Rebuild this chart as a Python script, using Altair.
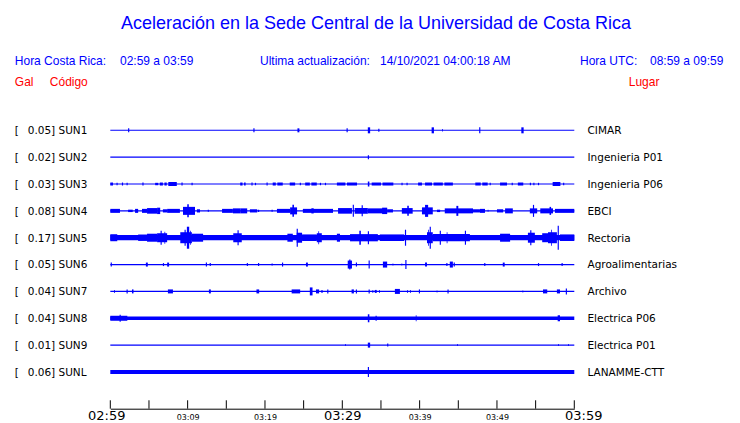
import altair as alt
import pandas as pd

# ---------------- data ----------------
codes = ["SUN1", "SUN2", "SUN3", "SUN4", "SUN5", "SUN6", "SUN7", "SUN8", "SUN9", "SUNL"]
places = ["CIMAR", "Ingenieria P01", "Ingenieria P06", "EBCI", "Rectoria",
          "Agroalimentarias", "Archivo", "Electrica P06", "Electrica P01", "LANAMME-CTT"]
peak_gal = [0.05, 0.02, 0.03, 0.08, 0.17, 0.05, 0.04, 0.04, 0.01, 0.06]
# background trace half-amplitude (arbitrary amplitude units, 26.85 units = one row)
base_amp = [0.55, 0.55, 0.6, 0.6, 2.6, 0.6, 0.6, 1.8, 0.6, 2.0]

tick_minutes = [0, 5, 10, 15, 20, 25, 30, 35, 40, 45, 50, 55, 60]
label_minutes = [0, 10, 20, 30, 40, 50, 60]
time_labels = ["02:59", "03:09", "03:19", "03:29", "03:39", "03:49", "03:59"]

# events: (start minute, end minute, half-amplitude)
sun1 = [(2.3, 2.45, 2), (18.5, 18.65, 2), (24.2, 24.45, 2), (30.55, 30.7, 2), (33.3, 33.6, 3),
        (34.65, 34.8, 1.5), (41.55, 41.85, 3), (42.9, 43.0, 1.2), (47.7, 47.85, 3), (53.15, 53.45, 3)]
sun2 = [(33.3, 33.45, 2)]
sun3 = [(0, 0.35, 1.5), (0.8, 0.95, 1.2), (1.5, 1.65, 1.5), (2.1, 2.25, 1.2), (4.15, 4.3, 1.5),
        (5.8, 6.2, 1.2), (6.4, 6.8, 1.5), (7.0, 7.3, 1.5), (7.5, 8.6, 2), (9.2, 9.35, 1.5),
        (10.5, 10.65, 1.2), (16.8, 17.1, 1.5), (17.3, 17.5, 1.5), (18.25, 18.4, 1.5), (18.7, 18.85, 1.2),
        (20.2, 20.35, 1.5), (21.0, 21.4, 1.5), (21.6, 22.3, 1.5), (23.2, 23.9, 1.5), (24.5, 24.65, 1.2),
        (25.2, 25.8, 1.5), (26.0, 26.7, 1.5), (27.1, 27.25, 1.2), (27.75, 27.9, 1.2), (29.3, 30.4, 1.5),
        (30.6, 31.9, 1.5), (33.3, 33.5, 2.5), (33.8, 35.0, 1.5), (35.2, 36.6, 1.5), (37.65, 37.8, 1.2),
        (38.3, 38.45, 1.2), (39.8, 40.3, 1.5), (40.7, 41.6, 1.5), (41.8, 43.0, 1.5), (43.2, 44.3, 1.5),
        (47.2, 47.9, 1.5), (48.1, 48.8, 1.5), (49.05, 49.2, 1.2), (50.4, 51.3, 1.5), (51.9, 52.05, 1.2),
        (52.7, 53.4, 1.5), (54.25, 54.4, 1.2), (54.7, 54.85, 1.2), (55.3, 55.45, 1.2),
        (57.2, 58.2, 2), (58.55, 58.7, 1.2)]
sun4 = [(0, 1.25, 2), (2.3, 2.9, 1.2), (3.2, 3.6, 2), (4.1, 4.75, 2), (4.75, 6.05, 2.8),
        (6.05, 6.45, 3.2), (6.8, 7.35, 1.6), (7.35, 9.0, 2), (9.4, 10.95, 4), (9.95, 10.15, 6.5),
        (11.2, 11.6, 1.6), (12.6, 12.75, 1), (14.45, 15.85, 2), (15.85, 16.8, 2.5), (16.8, 17.7, 2.5),
        (18.05, 19.0, 1.6), (19.1, 19.25, 1.2), (20.85, 21.0, 1), (21.55, 23.25, 2),
        (23.25, 24.15, 3.5), (23.55, 23.75, 6), (24.9, 28.8, 2), (26.0, 26.3, 2.6),
        (29.45, 31.25, 2.8), (31.35, 31.5, 6), (31.6, 33.3, 2.8), (32.5, 32.65, 5.5),
        (33.3, 35.8, 2.5), (35.15, 35.8, 3.2), (35.8, 36.55, 1.6), (37.7, 39.1, 2.8), (38.4, 38.6, 5),
        (40.3, 41.7, 3.5), (40.7, 41.1, 6), (42.25, 42.65, 1.2), (43.25, 46.9, 2.5), (44.75, 45.0, 5),
        (46.9, 47.8, 1.6), (47.8, 48.45, 2), (48.8, 48.9, 1), (50.0, 50.8, 1.6), (51.05, 52.05, 2.5),
        (54.25, 55.2, 2.5), (54.65, 54.8, 6), (55.6, 57.25, 2.5), (56.8, 57.0, 4), (57.5, 60, 2)]
sun5 = [(0, 0.9, 3.5), (3.6, 4.75, 3.2), (4.75, 6.05, 4), (6.05, 7.35, 4.5), (6.5, 6.65, 7),
        (7.0, 7.1, 6), (9.05, 10.55, 5.5), (9.6, 9.75, 8), (9.9, 10.2, 11), (10.3, 10.4, 7),
        (10.55, 12.0, 4), (15.9, 17.0, 4.5), (16.45, 16.6, 7.5), (22.9, 23.6, 4), (24.1, 24.8, 5),
        (24.1, 24.25, 9), (24.8, 26.7, 3.3), (26.7, 27.35, 4.5), (26.9, 27.0, 6.5), (29.3, 29.7, 4),
        (31.0, 34.6, 3.6), (32.2, 32.4, 7), (33.3, 33.45, 6.5), (34.85, 38.0, 3.3), (38.1, 38.25, 8),
        (40.95, 41.7, 5.5), (41.1, 41.2, 8), (41.3, 41.45, 11), (41.7, 46.5, 3.6), (42.6, 42.75, 7),
        (43.5, 43.6, 5.5), (45.85, 46.0, 7), (50.4, 51.7, 4), (54.0, 54.9, 5), (54.3, 54.45, 7.5),
        (55.85, 56.6, 4.5), (56.6, 57.75, 5.5), (57.0, 57.1, 8), (57.85, 58.0, 12), (58.15, 60, 3.3)]
sun6 = [(0.05, 0.2, 2), (4.6, 4.85, 2), (6.8, 6.95, 1.5), (7.35, 7.6, 2), (12.35, 12.5, 2),
        (12.85, 13.0, 1.5), (17.65, 17.8, 1.5), (19.1, 19.25, 1.5), (20.85, 21.0, 1), (22.2, 22.35, 2),
        (25.3, 25.55, 2), (30.7, 31.25, 4), (30.9, 31.05, 5), (31.75, 31.9, 2), (33.4, 33.55, 4),
        (35.25, 35.8, 3), (36.5, 36.6, 1), (37.65, 37.75, 1), (38.15, 38.3, 4.5), (40.7, 40.95, 2),
        (43.45, 43.6, 1.5), (43.9, 44.3, 3), (44.4, 44.55, 2), (48.35, 48.5, 1.5), (50.75, 51.0, 2),
        (55.3, 55.45, 1.5), (58.35, 58.5, 1.5)]
sun7 = [(0.5, 0.6, 1.5), (2.1, 2.25, 2), (2.8, 3.0, 2), (7.45, 8.1, 2), (12.75, 13.0, 2),
        (18.9, 19.25, 2), (23.45, 24.55, 2), (25.8, 26.15, 4), (26.6, 27.0, 2), (27.3, 27.45, 1.5),
        (28.05, 28.2, 2), (31.2, 31.5, 2), (31.75, 31.9, 2), (33.4, 33.55, 2), (33.9, 34.0, 1.5),
        (34.2, 34.45, 1.5), (34.75, 34.85, 1.5), (36.8, 37.45, 2.5), (38.4, 38.5, 1.5),
        (38.75, 38.85, 1.5), (39.9, 40.05, 2), (42.2, 42.3, 1), (43.6, 43.75, 2), (53.3, 53.4, 1),
        (55.95, 56.5, 2), (57.75, 58.15, 2), (58.9, 59.05, 3)]
sun8 = [(0, 2.2, 2.5), (1.2, 1.35, 3.5), (33.3, 33.5, 4), (34.3, 34.45, 2.5), (39.5, 39.6, 3),
        (57.85, 58.15, 3)]
sun9 = [(30.35, 30.45, 1), (33.3, 33.6, 2.5), (35.8, 35.95, 1.5), (44.85, 44.95, 1),
        (57.9, 58.0, 1), (59.2, 59.3, 1)]
sunl = [(33.3, 33.45, 5)]

events = [sun1, sun2, sun3, sun4, sun5, sun6, sun7, sun8, sun9, sunl]

ROW_UNITS = 26.85  # amplitude units per station row

rows = []
for i, ev in enumerate(events):
    rows.append({"station": codes[i], "t0": 0, "t1": 60,
                 "lo": i - base_amp[i] / ROW_UNITS, "hi": i + base_amp[i] / ROW_UNITS})
    for a, b, amp in ev:
        rows.append({"station": codes[i], "t0": a, "t1": b,
                     "lo": i - amp / ROW_UNITS, "hi": i + amp / ROW_UNITS})
trace_df = pd.DataFrame(rows)

station_df = pd.DataFrame({
    "idx": list(range(len(codes))),
    "left": [f"{v:.2f}] {c}" for v, c in zip(peak_gal, codes)],
    "place": places,
    "br": ["["] * len(codes),
})
tick_df = pd.DataFrame({"m": tick_minutes})

# ---------------- chart ----------------
BLUE = "#0000ff"
RED = "#ff0000"

xscale = alt.Scale(domain=[0, 60], nice=False, zero=False)
yscale = alt.Scale(domain=[-0.5, 9.5], reverse=True, nice=False, zero=False)
label_list = ",".join(f"'{t}'" for t in time_labels)
xaxis = alt.Axis(
    values=label_minutes,
    labelExpr=f"[{label_list}][round(datum.value/10)]",
    title=None, grid=False, ticks=False,
    domain=True, domainColor="black", domainWidth=1,
    offset=23.3, labelFlush=False, labelOverlap=False,
    labelFont="DejaVu Sans", labelColor="black",
    labelFontSize={"condition": {"test": "datum.value % 30 === 0", "value": 13}, "value": 8},
    labelOffset={"condition": [{"test": "datum.value === 0", "value": -4},
                               {"test": "datum.value === 60", "value": 9}], "value": 0},
    labelBaseline="alphabetic", labelPadding=10.5,
)

traces = alt.Chart(trace_df).mark_rect(color=BLUE).encode(
    x=alt.X("t0:Q", scale=xscale, axis=xaxis),
    x2="t1:Q",
    y=alt.Y("lo:Q", scale=yscale, axis=None),
    y2="hi:Q",
)

ticks = alt.Chart(tick_df).mark_rule(color="black", strokeWidth=1).encode(
    x=alt.X("m:Q", scale=xscale, axis=xaxis),
    y=alt.value(283.4),
    y2=alt.value(291.8),
)

st_font = dict(font="DejaVu Sans", fontSize=10.5, color="black", baseline="alphabetic", dy=3.9)
bracket = alt.Chart(station_df).mark_text(align="left", **st_font).encode(
    x=alt.value(-95.6), y=alt.Y("idx:Q", scale=yscale, axis=None), text="br:N")
left_lab = alt.Chart(station_df).mark_text(align="left", **st_font).encode(
    x=alt.value(-82.6), y=alt.Y("idx:Q", scale=yscale, axis=None), text="left:N")
right_lab = alt.Chart(station_df).mark_text(align="left", **st_font).encode(
    x=alt.value(477.2), y=alt.Y("idx:Q", scale=yscale, axis=None), text="place:N")


def header(text, x, y, color=BLUE, size=12, align="left"):
    return alt.Chart(pd.DataFrame({"t": [text]})).mark_text(
        align=align, baseline="alphabetic", font="Liberation Sans",
        fontSize=size, color=color,
    ).encode(x=alt.value(x), y=alt.value(y), text="t:N")


headers = [
    header("Aceleración en la Sede Central de la Universidad de Costa Rica", 265.7, -87.4,
           size=18, align="center"),
    header("Hora Costa Rica:", -95.5, -51.9),
    header("02:59 a 03:59", 9.7, -51.9),
    header("Ultima actualización:", 149.7, -51.9),
    header("14/10/2021 04:00:18 AM", 269.7, -51.9),
    header("Hora UTC:", 469.7, -51.9),
    header("08:59 a 09:59", 539.7, -51.9),
    header("Gal", -95.5, -30.9, color=RED),
    header("Código", -60.5, -30.9, color=RED),
    header("Lugar", 518.5, -30.9, color=RED),
]

chart = alt.layer(traces, ticks, bracket, left_lab, right_lab, *headers).properties(
    width=464, height=268.5,
    padding={"left": 102.3, "top": 108.9, "right": 157.7, "bottom": 42},
    autosize=alt.AutoSizeParams(type="none"),
    background="white",
).configure_view(strokeWidth=0)

chart.save("out.html", embed_options={"renderer": "svg", "actions": False})
